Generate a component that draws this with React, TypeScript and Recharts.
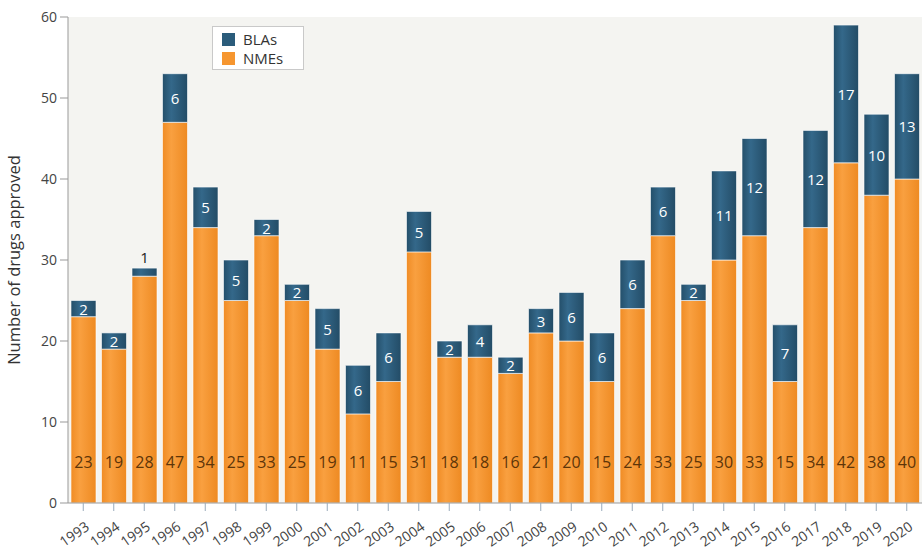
import { BarChart, Bar, XAxis, YAxis, CartesianGrid, LabelList, Label } from 'recharts';

const years = [
    '1993', '1994', '1995', '1996', '1997', '1998', '1999', '2000', '2001', '2002',
    '2003', '2004', '2005', '2006', '2007', '2008', '2009', '2010', '2011', '2012',
    '2013', '2014', '2015', '2016', '2017', '2018', '2019', '2020',
];
const nmes = [23, 19, 28, 47, 34, 25, 33, 25, 19, 11, 15, 31, 18, 18, 16, 21, 20, 15, 24, 33, 25, 30, 33, 15, 34, 42, 38, 40];
const blas = [2, 2, 1, 6, 5, 5, 2, 2, 5, 6, 6, 5, 2, 4, 2, 3, 6, 6, 6, 6, 2, 11, 12, 7, 12, 17, 10, 13];
const yTicks = [0, 10, 20, 30, 40, 50, 60];

const data = years.map((year, i) => ({ year, nme: nmes[i], bla: blas[i] }));

const FONT = '"Open Sans", "Noto Sans", sans-serif';
const BLUE = '#2b5c7b';
const ORANGE = '#f6962f';

const XTick = (props: any) => {
    const { x, y, payload } = props;
    return (
        <g transform={`translate(${x + 7},${y + 16})`}>
            <text
                x={0}
                y={0}
                textAnchor="end"
                transform="rotate(-35)"
                fill="#444"
                fontSize={14}
                fontFamily={FONT}
            >
                {payload.value}
            </text>
        </g>
    );
};

const nmeLabel = (props: any) => {
    const { x, y, width, height, value } = props;
    return (
        <text
            x={x + width / 2}
            y={y + height - 35}
            textAnchor="middle"
            fill="#5e3508"
            fontSize={16}
            fontFamily={FONT}
        >
            {value}
        </text>
    );
};

const blaLabel = (props: any) => {
    const { x, y, width, height, value } = props;
    const small = height < 14;
    return (
        <text
            x={x + width / 2}
            y={small ? y - 5 : y + height / 2 + 6}
            textAnchor="middle"
            fill={small ? '#222' : '#fff'}
            fontSize={15}
            fontFamily={FONT}
        >
            {value}
        </text>
    );
};

const LegendBox = () => (
    <div
        style={{
            position: 'absolute',
            left: 212,
            top: 26,
            width: 92,
            height: 44,
            background: '#fff',
            border: '1px solid #c9c9c9',
            fontFamily: FONT,
            fontSize: 15,
            color: '#333',
            boxSizing: 'border-box',
            padding: '3px 0 0 9px',
            lineHeight: '19px',
        }}
    >
        {[
            { name: 'BLAs', color: BLUE },
            { name: 'NMEs', color: ORANGE },
        ].map((e) => (
            <div key={e.name} style={{ display: 'flex', alignItems: 'center', height: 19 }}>
                <span style={{ width: 13, height: 13, background: e.color, marginRight: 8, display: 'inline-block' }} />
                {e.name}
            </div>
        ))}
    </div>
);

export default function App() {
    return (
        <div style={{ position: 'absolute', left: 0, top: 0, width: 922, height: 554, background: '#fff' }}>
            <BarChart
                width={922}
                height={554}
                data={data}
                margin={{ top: 17, right: 0, bottom: 0, left: 0 }}
                barCategoryGap={3}
            >
                <defs>
                    <linearGradient id="gBlue" x1="0" y1="0" x2="1" y2="0">
                        <stop offset="0%" stopColor="#244f6a" />
                        <stop offset="35%" stopColor="#34688a" />
                        <stop offset="100%" stopColor="#234c66" />
                    </linearGradient>
                    <linearGradient id="gOrange" x1="0" y1="0" x2="1" y2="0">
                        <stop offset="0%" stopColor="#f08c25" />
                        <stop offset="35%" stopColor="#f9a040" />
                        <stop offset="100%" stopColor="#ee8a22" />
                    </linearGradient>
                </defs>
                <CartesianGrid horizontal={false} vertical={false} fill="#f4f4f1" />
                <XAxis
                    dataKey="year"
                    height={51}
                    interval={0}
                    tick={<XTick />}
                    tickSize={8}
                    tickLine={{ stroke: '#9ab' }}
                    axisLine={{ stroke: '#999' }}
                />
                <YAxis
                    width={68}
                    domain={[0, 60]}
                    ticks={yTicks}
                    tickSize={8}
                    tickMargin={3}
                    tick={{ fill: '#444', fontSize: 14, fontFamily: FONT }}
                    tickLine={{ stroke: '#999' }}
                    axisLine={{ stroke: '#999' }}
                >
                    <Label
                        value="Number of drugs approved"
                        angle={-90}
                        position="insideLeft"
                        offset={14}
                        style={{ textAnchor: 'middle', fill: '#333', fontSize: 16.5, fontFamily: FONT }}
                    />
                </YAxis>
                <Bar dataKey="nme" stackId="a" fill="url(#gOrange)" stroke="#fff" strokeWidth={0.6} isAnimationActive={false}>
                    <LabelList dataKey="nme" content={nmeLabel} />
                </Bar>
                <Bar dataKey="bla" stackId="a" fill="url(#gBlue)" stroke="#fff" strokeWidth={0.6} isAnimationActive={false}>
                    <LabelList dataKey="bla" content={blaLabel} />
                </Bar>
            </BarChart>
            <LegendBox />
        </div>
    );
}
